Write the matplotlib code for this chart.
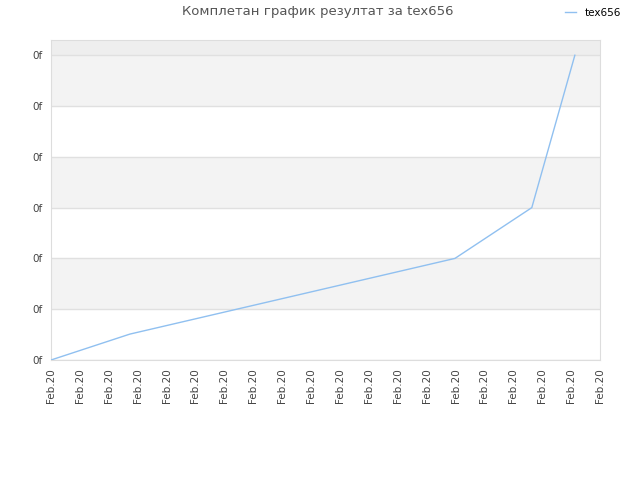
import matplotlib
matplotlib.use("Agg")
import matplotlib.pyplot as plt
import numpy as np

title = "Комплетан график резултат за tex656"
series_name = "tex656"
x_vals = [0.0, 2.73, 13.98, 16.64, 18.13]
y_vals = [0.0, 0.51, 2.0, 3.0, 6.0]
n_xticks = 20
x_tick_labels = ["Feb.20"] * n_xticks
y_ticks = [0, 1, 2, 3, 4, 5, 6]
y_tick_labels = ["0f"] * len(y_ticks)

fig = plt.figure(figsize=(6.4, 4.8), dpi=100)
ax = fig.add_axes([51/640, 120/480, 549/640, 320/480])
ymax = 6.3
ax.set_xlim(0, n_xticks - 1)
ax.set_ylim(0, ymax)

# alternating bands
for i in range(len(y_ticks) - 1):
    if i % 2 == 1:
        ax.axhspan(y_ticks[i], y_ticks[i + 1], color="#f3f3f3", zorder=0, lw=0)
ax.axhspan(y_ticks[-1], ymax, color="#eeeeee", zorder=0, lw=0)
for yt in y_ticks:
    ax.axhline(yt, color="#e0e0e0", lw=1, zorder=1)

line, = ax.plot(x_vals, y_vals, color="#90c0f0", lw=1.0, zorder=3, label=series_name)

ax.set_xticks(np.arange(n_xticks))
ax.set_xticklabels(x_tick_labels, rotation=90, fontsize=7.5, color="#444444")
ax.set_yticks(y_ticks)
ax.set_yticklabels(y_tick_labels, fontsize=7.5, color="#444444")
ax.tick_params(length=0, pad=6)
for s in ax.spines.values():
    s.set_color("#dddddd")

fig.text(318/640, 1 - 12/480, title, ha="center", va="center", fontsize=9.5, color="#555555")
fig.legend(handles=[line], loc="center right", bbox_to_anchor=(630/640, 1 - 13/480),
           frameon=False, fontsize=7.5, handlelength=1.0, handletextpad=0.8)

fig.savefig("out.png", dpi=100)
